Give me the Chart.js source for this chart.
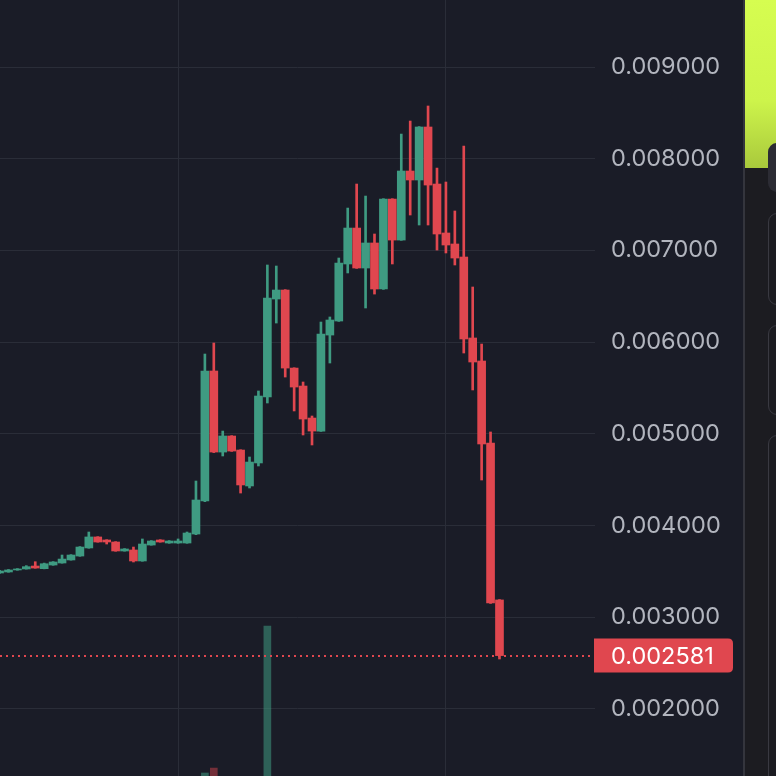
<!DOCTYPE html>
<html>
<head>
<meta charset="utf-8">
<script src="https://cdn.jsdelivr.net/npm/chart.js@4.4.1/dist/chart.umd.min.js"></script>
<style>
    html, body { margin: 0; padding: 0; background: #1a1c27; width: 776px; height: 776px; overflow: hidden; }
    #wrap { position: absolute; left: 0; top: 0; width: 743px; height: 776px; }
    #sep { position: absolute; left: 743px; top: 0; width: 2px; height: 776px; background: #34353d; }
    #side { position: absolute; left: 745px; top: 0; width: 31px; height: 776px; background: #1c1c21; overflow: hidden; }
    #lime { position: absolute; left: 0; top: 0; width: 31px; height: 168px; background: linear-gradient(#d6fd50, #cdf44b 60%, #a9c93c); }
    .pill { position: absolute; left: 23px; width: 30px; border-radius: 9px; }
    .fill { background: #2c2c34; }
    .line { border: 1.5px solid #393941; }
</style>
</head>
<body>
<div id="wrap"><canvas id="priceChart"></canvas></div>
<div id="sep"></div>
<div id="side">
    <div id="lime"></div>
    <div class="pill fill" style="top:143px;height:49px;"></div>
    <div class="pill line" style="top:213px;height:90px;"></div>
    <div class="pill line" style="top:325px;height:88px;"></div>
    <div class="pill line" style="top:435px;height:400px;"></div>
</div>
<script>
// candle values, one entry per candle
const opens = [
    0.003482, 0.003493, 0.003515, 0.003526, 0.003558, 0.003529, 0.003569, 0.003591, 0.003624, 0.003667,
    0.003755, 0.003875, 0.003842, 0.003820, 0.003722, 0.003733, 0.003613, 0.003787, 0.003842, 0.003809,
    0.003809, 0.003809, 0.003907, 0.004267, 0.005685, 0.004801, 0.004976, 0.004823, 0.004431, 0.004682,
    0.005401, 0.006470, 0.006568, 0.005717, 0.005521, 0.005172, 0.005030, 0.006077, 0.006230, 0.006852,
    0.007244, 0.006808, 0.007081, 0.006579, 0.007560, 0.007113, 0.007866, 0.007768, 0.008346, 0.007724,
    0.007190, 0.007070, 0.006928, 0.006045, 0.005794, 0.004900, 0.003188
];
const highs = [
    0.003510, 0.003520, 0.003530, 0.003562, 0.003605, 0.003590, 0.003606, 0.003678, 0.003682, 0.003770,
    0.003929, 0.003878, 0.003845, 0.003824, 0.003748, 0.003765, 0.003853, 0.003835, 0.003845, 0.003835,
    0.003853, 0.003929, 0.004485, 0.005870, 0.005990, 0.005030, 0.004980, 0.004826, 0.004747, 0.005467,
    0.006841, 0.006830, 0.006572, 0.005720, 0.005565, 0.005194, 0.006219, 0.006274, 0.006917, 0.007462,
    0.007724, 0.007593, 0.007179, 0.007564, 0.007564, 0.008269, 0.008411, 0.008350, 0.008575, 0.007898,
    0.007746, 0.007430, 0.008138, 0.006601, 0.005979, 0.005020, 0.003192
];
const lows = [
    0.003478, 0.003490, 0.003512, 0.003524, 0.003534, 0.003527, 0.003566, 0.003589, 0.003622, 0.003664,
    0.003752, 0.003818, 0.003798, 0.003719, 0.003720, 0.003602, 0.003610, 0.003785, 0.003818, 0.003806,
    0.003806, 0.003806, 0.003900, 0.004260, 0.004795, 0.004758, 0.004808, 0.004354, 0.004409, 0.004649,
    0.005336, 0.006208, 0.005619, 0.005249, 0.004987, 0.004878, 0.005026, 0.005772, 0.006226, 0.006754,
    0.006804, 0.006372, 0.006524, 0.006575, 0.006852, 0.007110, 0.007386, 0.007277, 0.007277, 0.007004,
    0.006972, 0.006841, 0.005881, 0.005478, 0.004496, 0.003150, 0.002544
];
const closes = [
    0.003504, 0.003515, 0.003526, 0.003551, 0.003536, 0.003583, 0.003602, 0.003634, 0.003678, 0.003765,
    0.003875, 0.003820, 0.003820, 0.003722, 0.003744, 0.003613, 0.003798, 0.003831, 0.003820, 0.003831,
    0.003831, 0.003918, 0.004278, 0.005685, 0.004801, 0.004976, 0.004812, 0.004442, 0.004692, 0.005412,
    0.006481, 0.006568, 0.005717, 0.005510, 0.005161, 0.005030, 0.006088, 0.006241, 0.006862, 0.007244,
    0.006808, 0.007081, 0.006579, 0.007560, 0.007113, 0.007866, 0.007768, 0.008346, 0.007713, 0.007179,
    0.007059, 0.006917, 0.006034, 0.005783, 0.004889, 0.003155, 0.002581
];
// only the tops of three volume bars show at the bottom edge, the rest sit below it
const volumes = [
    120, 110, 130, 150, 140, 160, 150, 170, 180, 220,
    260, 200, 180, 210, 160, 230, 280, 190, 170, 160,
    180, 260, 640, 1030, 1080, 720, 520, 610, 540, 880,
    2500, 930, 760, 640, 590, 520, 870, 610, 690, 720,
    650, 600, 570, 700, 620, 760, 690, 710, 740, 660,
    560, 540, 780, 640, 720, 860, 680
];
const yTicks = [0.002, 0.003, 0.004, 0.005, 0.006, 0.007, 0.008, 0.009];
const xGridTicks = [20, 50];
const lastPrice = 0.002581;

const UP = '#3f9b82';
const DOWN = '#e0474f';
const UP_VOL = 'rgba(63, 155, 130, 0.55)';
const DOWN_VOL = 'rgba(224, 71, 79, 0.45)';
const GRID = '#2a2d38';
const LABEL_FONT = { family: 'Inter', size: 23.5 };

const isUp = opens.map((o, i) => closes[i] >= o);
const bodies = opens.map((o, i) => ({ x: i, y: [o, closes[i]] }));
const wicks = lows.map((l, i) => ({ x: i, y: [l, highs[i]] }));
const vols = volumes.map((v, i) => ({ x: i, y: v }));

function noPadding(scale) {
    scale.paddingTop = 0;
    scale.paddingBottom = 0;
    scale.paddingLeft = 0;
    scale.paddingRight = 0;
}

const priceLine = {
    id: 'priceLine',
    afterDatasetsDraw(chart) {
        const ctx = chart.ctx;
        const area = chart.chartArea;
        const y = Math.round(chart.scales.y.getPixelForValue(lastPrice));
        ctx.save();
        ctx.strokeStyle = DOWN;
        ctx.lineWidth = 2;
        ctx.setLineDash([2, 4]);
        ctx.beginPath();
        ctx.moveTo(area.left, y);
        ctx.lineTo(area.right, y);
        ctx.stroke();
        ctx.restore();
    },
    afterDraw(chart) {
        const ctx = chart.ctx;
        const area = chart.chartArea;
        const y = chart.scales.y.getPixelForValue(lastPrice);
        const left = area.right - 1;
        const w = 139;
        const h = 34;
        const r = 5;
        ctx.save();
        ctx.fillStyle = DOWN;
        ctx.beginPath();
        ctx.moveTo(left, y - h / 2);
        ctx.lineTo(left + w - r, y - h / 2);
        ctx.quadraticCurveTo(left + w, y - h / 2, left + w, y - h / 2 + r);
        ctx.lineTo(left + w, y + h / 2 - r);
        ctx.quadraticCurveTo(left + w, y + h / 2, left + w - r, y + h / 2);
        ctx.lineTo(left, y + h / 2);
        ctx.closePath();
        ctx.fill();
        ctx.fillStyle = '#ffffff';
        ctx.font = LABEL_FONT.size + 'px ' + LABEL_FONT.family;
        ctx.textAlign = 'left';
        ctx.textBaseline = 'middle';
        ctx.fillText(lastPrice.toFixed(6), area.right + 16, y + 1);
        ctx.restore();
    }
};

const ctx = document.getElementById('priceChart').getContext('2d');
new Chart(ctx, {
    type: 'bar',
    data: {
        datasets: [
            {
                label: 'Body',
                data: bodies,
                backgroundColor: isUp.map(u => u ? UP : DOWN),
                barThickness: 8,
                minBarLength: 1,
                grouped: false,
                yAxisID: 'y'
            },
            {
                label: 'Wick',
                data: wicks,
                backgroundColor: isUp.map(u => u ? UP : DOWN),
                barThickness: 2,
                grouped: false,
                yAxisID: 'y'
            },
            {
                label: 'Volume',
                data: vols,
                backgroundColor: isUp.map(u => u ? UP_VOL : DOWN_VOL),
                barThickness: 7,
                grouped: false,
                yAxisID: 'yVol'
            }
        ]
    },
    options: {
        responsive: true,
        maintainAspectRatio: false,
        animation: false,
        layout: { padding: 0 },
        plugins: {
            legend: { display: false },
            tooltip: { enabled: false }
        },
        scales: {
            x: {
                type: 'linear',
                offset: false,
                min: 0.05,
                max: 66.7,
                grid: { color: GRID, drawTicks: false, offset: false },
                border: { display: false },
                ticks: { display: false },
                afterBuildTicks: scale => { scale.ticks = xGridTicks.map(v => ({ value: v })); },
                afterFit: scale => { scale.height = 0; noPadding(scale); }
            },
            y: {
                position: 'right',
                min: 0.001268,
                max: 0.009731,
                grid: { color: GRID, drawTicks: false },
                border: { display: false },
                ticks: {
                    color: '#b2b5be',
                    font: LABEL_FONT,
                    padding: 16,
                    callback: v => v.toFixed(6)
                },
                afterBuildTicks: scale => { scale.ticks = yTicks.map(v => ({ value: v })); },
                afterFit: scale => { scale.width = 148; noPadding(scale); }
            },
            yVol: {
                display: false,
                min: 1000,
                max: 8760
            }
        }
    },
    plugins: [priceLine]
});
</script>
</body>
</html>
